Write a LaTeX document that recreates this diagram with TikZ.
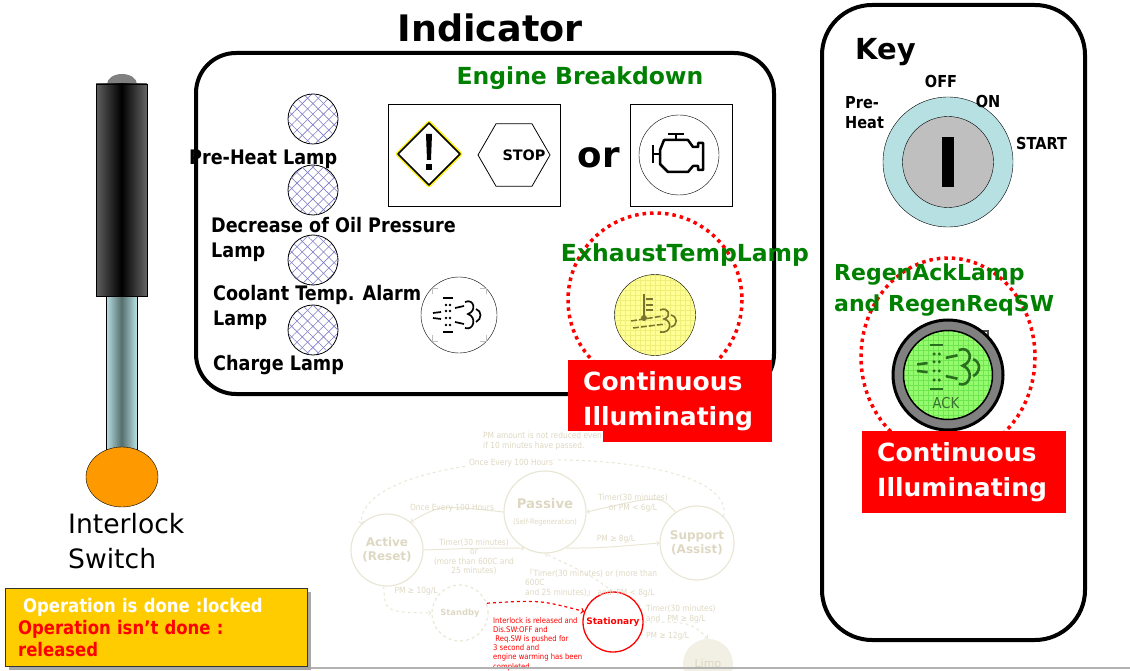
\documentclass[tikz,border=0pt]{standalone}
\usepackage{fontspec}
\setmainfont{DejaVu Sans}
\newfontfamily\slimfont{DejaVu Sans}[FakeStretch=0.88]
\newfontfamily\cjkfont{Noto Sans CJK JP}
\usetikzlibrary{shapes.geometric,patterns.meta}

\definecolor{engreen}{RGB}{0,128,0}
\definecolor{hatchblue}{RGB}{125,125,200}
\definecolor{keycyan}{RGB}{183,224,227}
\definecolor{lampyellow}{RGB}{255,255,150}
\definecolor{lampgrid}{RGB}{238,238,120}
\definecolor{ackgreen}{RGB}{150,250,110}
\definecolor{ackgrid}{RGB}{110,230,80}
\definecolor{ackdark}{RGB}{40,110,30}
\definecolor{olivemark}{RGB}{120,115,45}
\definecolor{ballorange}{RGB}{255,153,0}
\definecolor{stemlight}{RGB}{185,225,228}
\definecolor{stemdark}{RGB}{85,110,110}
\definecolor{notebg}{RGB}{255,204,0}
\definecolor{fadeline}{RGB}{234,230,214}
\definecolor{fadetext}{RGB}{222,216,195}
\definecolor{fadefill}{RGB}{242,239,228}

% exhaust / DPF glyph, drawn round the origin
\newcommand{\dpfglyph}[2]{%
  \draw[#1, line width=#2] (-16,-17) -- (-6,-17) (-16,17) -- (-6,17);
  \foreach \dy in {-10,-4,3,10} {\fill[#1] (-13,\dy) circle (1.3) (-9,\dy) circle (1.3);}
  \draw[#1, line width=#2] (-26,-2) -- (-18,-3) (-26,3) -- (-18,4) (-4,-7) -- (5,-9) (-4,7) -- (5,9);
  \draw[#1, line width=#2] (6,-13) .. controls (15,-17) and (18,-4) .. (9,-1) .. controls (18,2) and (15,16) .. (6,13);
  \draw[#1, line width=#2] (17,-6) .. controls (23,-4) and (23,4) .. (17,7);
}

\tikzset{
  lamplbl/.style={anchor=west, align=left, font={\slimfont\bfseries\fontsize{20}{25}\selectfont}},
  keylbl/.style={font={\slimfont\bfseries\fontsize{16.5}{20}\selectfont}},
  greenlbl/.style={text=engreen, font={\bfseries\fontsize{23.5}{31}\selectfont}},
  redbox/.style={fill=red, text=white, anchor=north west, align=left, minimum width=204pt,
    minimum height=82pt, text width=174pt, inner xsep=15pt, font={\bfseries\fontsize{25}{35}\selectfont}},
  hatchlamp/.style={circle, draw, thick, minimum size=50pt,
    pattern={Lines[angle=45,distance=7.5pt,line width=.6pt]}, pattern color=hatchblue,
    postaction={pattern={Lines[angle=-45,distance=7.5pt,line width=.6pt]}, pattern color=hatchblue}},
  dotring/.style={red, line width=3.5pt, dash pattern=on 3.5pt off 4pt},
  fadestate/.style={circle, draw=fadeline, line width=1.2pt, text=fadetext, align=center,
    font={\bfseries\fontsize{12}{14}\selectfont}},
  fadelbl/.style={text=fadetext, align=center, font={\slimfont\fontsize{8.5}{9.5}\selectfont}},
  fadearrow/.style={draw=fadeline, line width=1pt, ->},
}

\begin{document}
\begin{tikzpicture}[x=1pt, y=-1pt, every node/.style={inner sep=0pt}]
\useasboundingbox (0,0) rectangle (1130,671);

% regeneration state chart, faded in the background
\node[fadestate, minimum size=72pt] (active) at (387,550) {Active\\(Reset)};
\node[fadestate, minimum size=82pt, font={\bfseries\fontsize{13.3}{15}\selectfont}] (passive) at (545,512)
  {Passive\\[1pt]{\slimfont\mdseries\fontsize{7.5}{8}\selectfont (Self-Regeneration)}};
\node[fadestate, minimum size=74pt] (support) at (697,543) {Support\\(Assist)};
\node[fadestate, dashed, minimum size=56pt, font={\bfseries\fontsize{8.4}{10}\selectfont}] (standby) at (460,613) {Standby};
\node[fadestate, draw=none, fill=fadefill, minimum size=50pt, font={\fontsize{11}{12}\selectfont}] (limp) at (708,664) {Limp};
\node[circle, draw=red, line width=1.3pt, minimum size=60pt, text=red, font={\bfseries\fontsize{9}{10}\selectfont}] (stationary) at (613,622) {Stationary};

\draw[fadearrow, dashed] (support.45) .. controls (740,440) and (360,440) .. (active.135);
\draw[fadearrow] (support.125) .. controls (660,495) .. (passive.east);
\draw[fadearrow] (passive.west) .. controls (440,505) .. (active.50);
\draw[fadearrow] (active.east) .. controls (480,548) .. (passive.240);
\draw[fadearrow] (passive.300) .. controls (600,548) .. (support.west);
\draw[fadearrow, dashed] (stationary.north) .. controls (590,575) .. (passive.south);
\draw[fadearrow, dashed] (active.265) .. controls (385,612) .. (standby.west);
\draw[fadearrow, dashed] (stationary.east) .. controls (690,622) .. (limp.north);
\draw[red, line width=1.2pt, dashed, ->] (standby.20) .. controls (540,600) .. (stationary.160);

\node[fadelbl, fill=white, inner sep=1pt] (every100a) at (511,463) {Once Every 100 Hours};
\node[fadelbl] (every100b) at (452,508) {Once Every 100 Hours};
\node[fadelbl] (timerlow) at (633,503) {Timer(30 minutes)\\or PM < 6g/L};
\node[fadelbl] (timerfull) at (474,557) {Timer(30 minutes)\\or\\(more than 600C and\\25 minutes)};
\node[fadelbl] (pm8) at (616,539) {PM ≥ 8g/L};
\node[fadelbl, align=left, anchor=west] (timerstat) at (525,583)
  {{\cjkfont 「}Timer(30 minutes) or (more than\\600C\\and 25 minutes){\cjkfont 」} and\ \ PM < 8g/L};
\node[fadelbl] (pm10) at (416,591) {PM ≥ 10g/L};
\node[fadelbl, align=left, anchor=west] (timerlimp) at (646,614) {Timer(30 minutes)\\and\ \ \ PM ≥ 8g/L};
\node[fadelbl, anchor=west] (pm12) at (646,636) {PM ≥ 12g/L};
\node[text=red, align=left, anchor=north west, font={\slimfont\fontsize{7.8}{9.2}\selectfont}] (statcond) at (493,617)
  {Interlock is released and\\Dis.SW:OFF and\\\ Req.SW is pushed for\\3 second and\\engine warming has been\\completed.};

\draw[gray!60, line width=1.5pt] (15,668) -- (1130,668);

% interlock switch
\fill[gray] (122,84) ellipse (15 and 10);
\shade[left color=gray!75!black, right color=gray!80!black, middle color=black] (96,84) rectangle (147,296);
\draw (96,84) rectangle (147,296);
\shade[left color=stemlight, right color=stemlight, middle color=stemdark] (106,296) rectangle (137,452);
\draw (106,296) rectangle (137,452);
\draw[fill=ballorange] (122,477) ellipse (36 and 30);
\node[anchor=west, align=left, font={\fontsize{26.6}{35}\selectfont}] (switchlbl) at (68,541) {Interlock\\Switch};

% indicator panel
\node[font={\bfseries\fontsize{36.5}{40}\selectfont}] (indtitle) at (490,28) {Indicator};
\draw[line width=4pt, rounded corners=40pt] (196,53) rectangle (774,394);
\node[greenlbl] (engbrk) at (580,78) {Engine Breakdown};

\foreach \y [count=\i] in {119,190,260,330}
  \node[hatchlamp] (lamp\i) at (313,\y) {};
\node[lamplbl] (preheat) at (189,159) {Pre-Heat Lamp};
\node[lamplbl] (oilpress) at (211,239.5) {Decrease of Oil Pressure\\Lamp};
\node[lamplbl] (coolant) at (213,307.5) {Coolant Temp. Alarm\\Lamp};
\node[lamplbl] (charge) at (213,365) {Charge Lamp};

% warning and stop symbols
\draw[thick] (388,104) rectangle (560,206);
\draw[yellow, line width=4.5pt, line join=round] (429,123) -- (460,154) -- (429,185) -- (398,154) -- cycle;
\draw[line width=1.5pt, line join=round, fill=white] (429,123) -- (460,154) -- (429,185) -- (398,154) -- cycle;
\fill (426,134) -- (432,134) -- (431,160) -- (427,160) -- cycle;
\fill (426,164) rectangle (432,170);
\node[regular polygon, regular polygon sides=6, draw, thick, minimum size=72pt] (stopsign) at (514,155) {};
\node[font={\bfseries\fontsize{14.4}{16}\selectfont}] (stoptxt) at (524,155) {STOP};
\node[font={\bfseries\fontsize{35.6}{40}\selectfont}] (orword) at (599,158) {or};

% engine symbol
\draw[thick] (630,104) rectangle (732,206);
\draw (679,155) circle (40);
\draw[line width=2.5pt, line join=round] (660,150) -- (664,140) -- (688,140) -- (693,147) -- (698,147)
  -- (698,143) -- (703,143) -- (703,170) -- (698,170) -- (698,166) -- (693,166) -- (688,172)
  -- (668,172) -- (660,164) -- cycle;
\draw[line width=2.5pt] (668,134) -- (684,134) (676,134) -- (676,140) (653,145) -- (653,163) (653,154) -- (660,154);

% exhaust temperature lamps
\draw[dotring] (655,300) circle (87);
\node[greenlbl] (exhlbl) at (685,255) {ExhaustTempLamp};
\node[circle, draw, minimum size=76pt] (exhwhite) at (459,315) {};
\draw[gray!50] (432,294) -- (432,288) -- (438,288) (480,288) -- (486,288) -- (486,294)
  (432,335) -- (432,341) -- (438,341) (480,341) -- (486,341) -- (486,335);
\begin{scope}[shift={(459,315)}]
  \dpfglyph{black}{1.7pt}
\end{scope}
\node[circle, draw, fill=lampyellow, minimum size=81pt,
  path picture={\draw[lampgrid, step=5pt, line width=.3pt] (path picture bounding box.south west) grid (path picture bounding box.north east);}]
  (exhyellow) at (655,315) {};
\begin{scope}[shift={(655,315)}, olivemark]
  \draw[line width=2.2pt] (-11,-21) -- (-11,3);
  \fill (-11,3) circle (3);
  \draw[line width=1.5pt] (-9,-16) -- (-2,-16) (-9,-10) -- (-2,-10) (-9,-5) -- (-2,-5);
  \draw[line width=1.5pt, dash pattern=on 6pt off 2pt] (-24,6) -- (8,1) (-22,13) -- (10,9);
  \draw[line width=1.6pt] (5,-5) .. controls (14,-9) and (17,2) .. (9,4) .. controls (18,6) and (16,19) .. (5,17);
  \draw[line width=1.6pt] (16,0) .. controls (23,2) and (23,10) .. (16,12);
\end{scope}

% key panel
\draw[line width=4pt, rounded corners=50pt] (822,5) rectangle (1085,640);
\node[anchor=west, font={\bfseries\fontsize{29}{32}\selectfont}] (keytitle) at (855,52) {Key};
\node[keylbl] (keyoff) at (941,81) {OFF};
\node[keylbl, anchor=west, align=left] (keypre) at (845,113) {Pre-\\Heat};
\draw[fill=keycyan] (948,162) circle (65);
\draw[fill=gray!50] (948,162) circle (45.5);
\fill (942,137) rectangle (954,187);
\node[keylbl] (keyon) at (988,101) {ON};
\node[keylbl, anchor=west] (keystart) at (1016,143) {START};

\draw[dotring] (948,357) ellipse (87 and 99);
\node[greenlbl, anchor=west, align=left, font={\bfseries\fontsize{22}{31}\selectfont}] (regenlbl) at (834,290.5)
  {RegenAckLamp\\and RegenReqSW};
\draw[gray!60!black, line width=1.2pt] (975,331) -| (988,407);
\node[circle, draw, line width=3pt, fill=gray, minimum size=110pt] (ackring) at (948,375) {};
\node[circle, draw, line width=1.5pt, fill=ackgreen, minimum size=89pt,
  path picture={\draw[ackgrid, step=5pt, line width=.3pt] (path picture bounding box.south west) grid (path picture bounding box.north east);}]
  (acklamp) at (948,375) {};
\begin{scope}[shift={(951,367)}, scale=1.3]
  \dpfglyph{ackdark}{2.6pt}
\end{scope}
\node[text=ackdark!80!gray, font={\slimfont\fontsize{15}{16}\selectfont}] (acktxt) at (946,403) {ACK};

% continuous illumination tags
\node[redbox] (illumexh) at (568,360) {Continuous\\Illuminating};
\node[redbox, minimum width=204pt] (illumack) at (862,431) {Continuous\\Illuminating};
\node[fadelbl, align=left, anchor=west, fill=white, inner sep=1pt] (pmnote) at (482,441)
  {PM amount is not reduced even\\if 10 minutes have passed.};

% operation note
\fill[gray!70] (9,592) rectangle (311,670);
\node[draw=black!80, fill=notebg, anchor=north west, minimum width=302pt, minimum height=78pt,
  text width=276pt, inner xsep=13pt, align=left, text=red,
  font={\slimfont\bfseries\fontsize{18.7}{22}\selectfont}] (opnote) at (5,588)
  {\hspace*{5pt}{\color{white}Operation is done :locked}\\Operation isn’t done :\\released};
\end{tikzpicture}
\end{document}
